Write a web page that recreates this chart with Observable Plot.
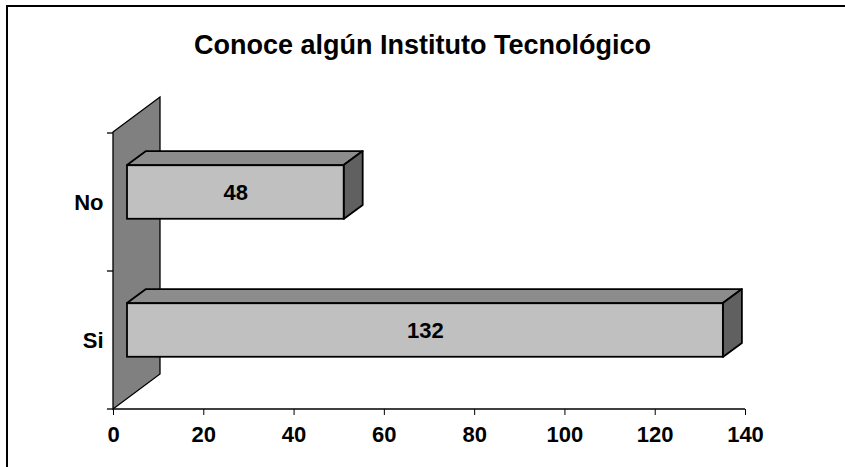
<!DOCTYPE html>
<html>
<head>
<meta charset="utf-8">
<script src="https://cdn.jsdelivr.net/npm/d3@7"></script>
<script src="https://cdn.jsdelivr.net/npm/@observablehq/plot@0.6"></script>
<style>
  html, body { margin: 0; padding: 0; background: #fff; }
  #wrap { position: relative; width: 845px; height: 467px; overflow: hidden; background: #fff; }
  #frame { position: absolute; left: 6px; top: 5px; width: 900px; height: 500px;
           border-left: 2px solid #000; border-top: 2px solid #000; z-index: 10; pointer-events: none; }
  #title { box-sizing: border-box; height: 75px; padding-top: 30px; line-height: 30px; text-align: center;
           font-family: "Liberation Sans", Arial, sans-serif; font-weight: bold; font-size: 27px; color: #000; }
  #chart svg { background: transparent; }
  #chart svg, #chart svg text { font-family: "Liberation Sans", Arial, sans-serif; font-size: 22px; font-weight: bold; fill: #000; }
  #chart svg text { fill: #000; }
</style>
</head>
<body>
<div id="wrap">
  <div id="title"></div>
  <div id="chart"></div>
  <div id="frame"></div>
</div>
<script>
// ---- data ----
const chartTitle = "Conoce algún Instituto Tecnológico";
const categories = ["No", "Si"];
const values = [48, 132];
const xTicks = [0, 20, 40, 60, 80, 100, 120, 140];

// ---- layout / style ----
const W = 845, H = 392;
const mTop = 57, mBottom = 58, mLeft = 113, mRight = 100;
const WALL_DX = 47, WALL_DY = -35;          // depth of the side wall
const FRONT_DX = 14, FRONT_DY = -10;        // bar front face offset within depth
const BAR_DX = 19, BAR_DY = -14;            // bar depth
const BAR_FRACTION = 0.39;                  // bar thickness relative to band
const bandPx = (H - mTop - mBottom) / categories.length;
const inset = bandPx * (1 - BAR_FRACTION) / 2;

const data = categories.map((c, i) => ({cat: c, value: values[i]}));

document.getElementById("title").textContent = chartTitle;

function wallMark(index, scales, vals, dims) {
  const {x, y} = scales;
  const x0 = x(xTicks[0]);
  const yTop = dims.marginTop, yBot = dims.height - dims.marginBottom;
  const g = d3.create("svg:g");
  g.append("path")
    .attr("d", `M${x0},${yTop}L${x0 + WALL_DX},${yTop + WALL_DY}L${x0 + WALL_DX},${yBot + WALL_DY}L${x0},${yBot}Z`)
    .attr("fill", "#808080").attr("stroke", "#000").attr("stroke-width", 1.3);
  const bw = typeof y.bandwidth === "function" ? y.bandwidth() : bandPx;
  const bounds = categories.map(c => y(c)).concat([y(categories[categories.length - 1]) + bw]);
  for (const b of bounds) {
    g.append("line").attr("x1", x0 - 6).attr("x2", x0).attr("y1", b).attr("y2", b)
      .attr("stroke", "#000").attr("stroke-width", 1.3);
  }
  g.append("line").attr("x1", x0).attr("x2", x(xTicks[xTicks.length - 1]))
    .attr("y1", yBot).attr("y2", yBot).attr("stroke", "#000").attr("stroke-width", 1.3);
  return g.node();
}

function barDepthMark(index, scales, vals, dims) {
  const {x, y} = scales;
  const bw = typeof y.bandwidth === "function" ? y.bandwidth() : bandPx;
  const ins = bw * (1 - BAR_FRACTION) / 2;
  const g = d3.create("svg:g");
  for (const d of data) {
    const yf0 = y(d.cat) + ins + FRONT_DY, yf1 = y(d.cat) + bw - ins + FRONT_DY;
    const xf0 = x(0) + FRONT_DX, xf1 = x(d.value) + FRONT_DX;
    g.append("path")
      .attr("d", `M${xf0},${yf0}L${xf0 + BAR_DX},${yf0 + BAR_DY}L${xf1 + BAR_DX},${yf0 + BAR_DY}L${xf1},${yf0}Z`)
      .attr("fill", "#8c8c8c").attr("stroke", "#000").attr("stroke-width", 1.8).attr("stroke-linejoin", "round");
    g.append("path")
      .attr("d", `M${xf1},${yf0}L${xf1 + BAR_DX},${yf0 + BAR_DY}L${xf1 + BAR_DX},${yf1 + BAR_DY}L${xf1},${yf1}Z`)
      .attr("fill", "#606060").attr("stroke", "#000").attr("stroke-width", 1.8).attr("stroke-linejoin", "round");
  }
  return g.node();
}

const plot = Plot.plot({
  width: W,
  height: H,
  marginTop: mTop,
  marginBottom: mBottom,
  marginLeft: mLeft,
  marginRight: mRight,
  style: {background: "transparent", fontSize: "22px", fontWeight: "bold", fontFamily: "Liberation Sans, Arial, sans-serif"},
  x: {domain: [xTicks[0], xTicks[xTicks.length - 1]], ticks: xTicks, tickSize: 6, tickPadding: 11, label: null},
  y: {domain: categories, padding: 0, tickSize: 0, tickPadding: 10, label: null},
  marks: [
    wallMark,
    barDepthMark,
    Plot.barX(data, {x1: () => 0, x2: "value", y: "cat", fill: "#c0c0c0", stroke: "#000", strokeWidth: 1.8,
      dx: FRONT_DX, dy: FRONT_DY, insetTop: inset, insetBottom: inset, insetLeft: 0, insetRight: 0}),
    Plot.text(data, {x: d => d.value / 2, y: "cat", text: d => String(d.value), dx: FRONT_DX, dy: FRONT_DY,
      fontSize: 22, fontWeight: "bold", fill: "#000"})
  ]
});
document.getElementById("chart").appendChild(plot);
</script>
</body>
</html>
